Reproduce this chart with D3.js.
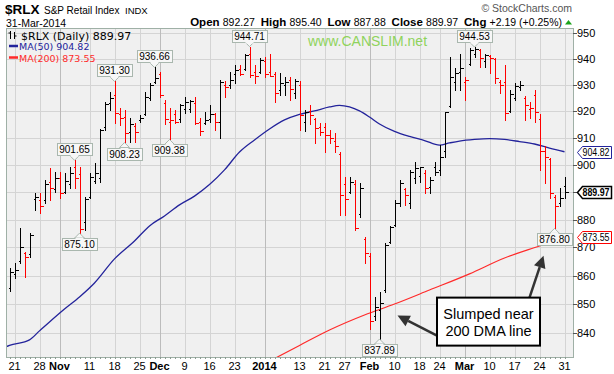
<!DOCTYPE html>
<html>
<head>
<meta charset="utf-8">
<script src="https://cdnjs.cloudflare.com/ajax/libs/d3/7.8.5/d3.min.js"></script>
<style>
body { margin: 0; background: #fff; }
svg { display: block; font-family: "Liberation Sans", Arial, sans-serif; }
</style>
</head>
<body>
<svg id="chart" width="614" height="374"></svg>
<script>
// trading days shown on the chart
var dates = [
	"2013-10-18","2013-10-21","2013-10-22","2013-10-23","2013-10-24","2013-10-25","2013-10-28","2013-10-29","2013-10-30","2013-10-31",
	"2013-11-01","2013-11-04","2013-11-05","2013-11-06","2013-11-07","2013-11-08","2013-11-11","2013-11-12","2013-11-13","2013-11-14",
	"2013-11-15","2013-11-18","2013-11-19","2013-11-20","2013-11-21","2013-11-22","2013-11-25","2013-11-26","2013-11-27","2013-11-29",
	"2013-12-02","2013-12-03","2013-12-04","2013-12-05","2013-12-06","2013-12-09","2013-12-10","2013-12-11","2013-12-12","2013-12-13",
	"2013-12-16","2013-12-17","2013-12-18","2013-12-19","2013-12-20","2013-12-23","2013-12-24","2013-12-26","2013-12-27","2013-12-30",
	"2013-12-31","2014-01-02","2014-01-03","2014-01-06","2014-01-07","2014-01-08","2014-01-09","2014-01-10","2014-01-13","2014-01-14",
	"2014-01-15","2014-01-16","2014-01-17","2014-01-21","2014-01-22","2014-01-23","2014-01-24","2014-01-27","2014-01-28","2014-01-29",
	"2014-01-30","2014-01-31","2014-02-03","2014-02-04","2014-02-05","2014-02-06","2014-02-07","2014-02-10","2014-02-11","2014-02-12",
	"2014-02-13","2014-02-14","2014-02-18","2014-02-19","2014-02-20","2014-02-21","2014-02-24","2014-02-25","2014-02-26","2014-02-27",
	"2014-02-28","2014-03-03","2014-03-04","2014-03-05","2014-03-06","2014-03-07","2014-03-10","2014-03-11","2014-03-12","2014-03-13",
	"2014-03-14","2014-03-17","2014-03-18","2014-03-19","2014-03-20","2014-03-21","2014-03-24","2014-03-25","2014-03-26","2014-03-27",
	"2014-03-28","2014-03-31"
];
var opens = [
	855.5,860.5,865,868,867.5,887.5,887,887,893.5,891,
	895,890,893,899,896.5,879,888,894,895,914,
	923,926,919,918,912,914.5,916.5,919,925,931,
	934,923,916,919,917,921,921,923,916,915.5,
	917,919,916,930,930,934,936,936,942,935,
	935,939,935,934,928,930,932,927,930,916,
	920,917,914,914,911,909,904,893,890,893,
	882,873,867,846,848,855,872,878,886,891,
	886,895,896,897,892,899,898,905,922,931,
	935,931,938,942,943.5,939,941,940,931,931,
	920,925,929,925,921,926,917,905,902,888,
	886,892.27
];
var highs = [
	862.6,864.4,876.8,868.5,875.0,889.5,889.5,894.4,898.7,897.5,
	897.5,896.9,899.3,901.65,899.0,888.3,896.9,900.5,913.4,923.5,
	927.4,931.3,921.1,920.4,917.3,915.4,918.6,927.4,930.7,936.66,
	935.1,924.3,921.1,920.4,922.9,925.5,924.3,925.5,917.3,919.8,
	922.3,919.2,932.0,931.3,935.1,937.6,937.6,942.0,944.71,937.6,
	940.2,940.8,942.0,935.1,934.4,933.0,933.0,932.4,931.3,920.4,
	922.3,917.3,915.4,915.4,912.9,911.7,904.9,895.6,895.6,894.4,
	893.2,873.8,867.9,852.5,854.3,871.5,877.8,887.1,894.4,891.3,
	898.1,901.1,899.3,898.1,895.6,901.1,907.3,919.8,940.8,936.3,
	942.0,933.0,944.1,944.53,943.8,942.0,941.4,940.2,931.9,937.6,
	928.0,930.7,931.3,925.9,923.5,928.0,918.9,906.8,902.4,888.9,
	891.3,895.40
];
var lows = [
	854.4,859.1,864.4,859.6,866.7,883.4,882.2,885.9,887.1,890.1,
	887.7,889.5,891.3,891.3,875.10,876.2,887.7,893.2,893.8,912.9,
	920.4,915.5,914.9,908.23,908.6,908.6,916.0,918.5,924.3,930.7,
	925.5,915.0,909.38,915.4,916.0,919.2,919.8,915.0,911.0,915.0,
	916.0,912.9,909.8,925.5,928.7,930.7,933.8,935.6,933.0,930.7,
	934.4,933.0,933.2,923.5,926.2,926.2,924.3,925.0,912.9,912.4,
	915.0,908.0,911.0,904.9,908.0,904.9,881.6,881.6,889.5,876.2,
	881.0,864.4,841.4,844.4,837.89,854.3,871.5,877.8,884.8,885.4,
	884.1,893.2,893.8,889.5,889.5,896.2,896.2,903.0,921.6,928.0,
	928.0,924.3,937.6,940.8,937.0,937.0,934.4,930.7,926.9,916.7,
	919.8,924.3,928.0,916.7,917.3,916.0,898.1,893.2,887.7,876.80,
	884.8,887.88
];
var closes = [
	861.4,862.0,870.3,866.5,874.5,888.0,884.8,892.8,891.5,895.0,
	889.5,894.0,897.0,895.0,876.5,887.5,895.6,897.0,912.8,922.9,
	925.0,919.2,917.3,911.7,915.0,912.1,917.5,925.5,930.0,932.5,
	926.2,917.0,916.5,915.8,922.3,923.3,923.8,915.4,912.6,916.7,
	918.8,916.0,931.0,929.3,932.0,935.5,934.3,941.5,933.6,933.3,
	939.6,934.0,933.5,926.9,930.7,931.0,928.6,931.3,918.6,919.6,
	918.5,913.8,912.3,911.0,909.8,906.8,888.9,887.5,893.8,876.8,
	891.3,868.0,844.0,849.0,850.5,871.0,877.2,885.9,893.2,888.9,
	897.5,898.7,899.0,891.3,894.4,897.5,903.0,919.6,933.0,934.4,
	936.3,931.9,943.5,943.8,940.2,941.4,940.2,932.6,930.0,919.2,
	926.5,929.4,930.0,922.3,921.1,919.8,905.0,903.0,889.5,884.8,
	887.78,889.97
];
var prevClose = 858.0; // close before the first bar

// moving averages
var ma50Dates = ["2013-10-17","2013-10-18","2013-10-24","2013-10-28","2013-10-30","2013-11-04","2013-11-07","2013-11-12",
	"2013-11-18","2013-11-22","2013-11-27","2013-12-03","2013-12-06","2013-12-11","2013-12-16","2013-12-19","2013-12-24",
	"2013-12-30","2014-01-03","2014-01-08","2014-01-13","2014-01-16","2014-01-22","2014-01-24","2014-01-28","2014-01-30",
	"2014-02-03","2014-02-05","2014-02-10","2014-02-13","2014-02-19","2014-02-24","2014-02-26","2014-02-28","2014-03-05",
	"2014-03-10","2014-03-13","2014-03-18","2014-03-21","2014-03-26","2014-03-31"];
var ma50Values = [835.0,835.7,837.6,840.7,843.8,848.3,852.5,857.4,
	865.9,872.3,877.7,881.3,885.3,888.5,892.7,898.1,904.7,
	909.2,913.3,916.7,918.8,920.1,921.6,922.2,921.6,920.1,
	917.8,915.2,912.4,910.5,909.0,907.3,908.1,908.8,909.4,
	909.7,909.4,908.6,907.7,906.2,904.82];
var ma200Dates = ["2014-01-06","2014-01-13","2014-01-22","2014-01-31","2014-02-10","2014-02-20","2014-03-04","2014-03-13","2014-03-24","2014-03-31"];
var ma200Values = [831.2,835.7,841.0,846.2,850.0,854.9,860.6,866.2,870.5,873.55];

var yTicks = [840,850,860,870,880,890,900,910,920,930,940,950];
var xTickDates = ["2013-10-21","2013-10-28","2013-11-01","2013-11-11","2013-11-18","2013-11-25","2013-12-02","2013-12-09",
	"2013-12-16","2013-12-23","2014-01-02","2014-01-13","2014-01-21","2014-01-27","2014-02-03","2014-02-10","2014-02-18",
	"2014-02-24","2014-03-03","2014-03-10","2014-03-17","2014-03-24","2014-03-31"];
var xTickLabels = ["21","28","Nov","11","18","25","Dec","9","16","23","2014","13","21","27","Feb","10","18","24","Mar","10","17","24","31"];
var monthTicks = ["Nov","Dec","2014","Feb","Mar"];

// value call-outs on highs and lows
var calloutDates = ["2013-11-06","2013-11-07","2013-11-18","2013-11-20","2013-11-29","2013-12-04","2013-12-27","2014-02-05","2014-03-05","2014-03-27"];
var calloutValues = [901.65,875.10,931.30,908.23,936.66,909.38,944.71,837.89,944.53,876.80];
var calloutSides = ["high","low","high","low","high","low","high","low","high","low"];

var black = "#000", red = "#ff0000", navy = "#23239b", maRed = "#ff2a2a";
var plotL = 6, plotR = 573, plotT = 28, plotB = 357;

var svg = d3.select("#chart");
var x = d3.scalePoint().domain(dates).range([9.5, 564.5]);
var y = d3.scaleLog().domain([840, 950]).range([332.9, 33]);
function px(d) { return Math.round(x(d)) + 0.5; }
function py(v) { return Math.round(y(v)) + 0.5; }

// header
svg.append("text").attr("x", 5).attr("y", 14).attr("font-size", 13.5).attr("font-weight", "bold").text("$RLX");
svg.append("text").attr("x", 44).attr("y", 14).attr("font-size", 10).text("S&P Retail Index");
svg.append("text").attr("x", 125).attr("y", 14).attr("font-size", 9.5).text("INDX");
svg.append("text").attr("x", 6).attr("y", 26.5).attr("font-size", 10.5).text("31-Mar-2014");
svg.append("text").attr("x", 572).attr("y", 12).attr("font-size", 10.5).attr("text-anchor", "end")
	.attr("fill", "#555").text("\u00a9 StockCharts.com");

var quote = [["Open ", true], ["892.27  ", false], ["High ", true], ["895.40  ", false],
	["Low ", true], ["887.88  ", false], ["Close ", true], ["889.97  ", false],
	["Chg ", true], ["+2.19 (+0.25%)", false]];
var qt = svg.append("text").attr("x", 562).attr("y", 25.5).attr("text-anchor", "end").attr("xml:space", "preserve");
quote.forEach(function(q) {
	qt.append("tspan").attr("font-size", q[1] ? 11.5 : 10.5).attr("font-weight", q[1] ? "bold" : "normal").text(q[0]);
});
svg.append("path").attr("d", "M565,24.5L568.5,20L572,24.5Z").attr("fill", "#1aa31a");

// plot area and grid
svg.append("rect").attr("x", plotL).attr("y", plotT).attr("width", plotR - plotL).attr("height", plotB - plotT)
	.attr("fill", "#f0f0f0");
svg.append("clipPath").attr("id", "clip").append("rect")
	.attr("x", plotL).attr("y", plotT).attr("width", plotR - plotL).attr("height", plotB - plotT);

var grid = svg.append("g").attr("shape-rendering", "crispEdges");
grid.selectAll(".hg").data(yTicks).enter().append("line")
	.attr("x1", plotL).attr("x2", plotR).attr("y1", py).attr("y2", py)
	.attr("stroke", "#d4d4d4");
grid.selectAll(".vg").data(xTickDates).enter().append("line")
	.attr("x1", px).attr("x2", px).attr("y1", plotT).attr("y2", plotB)
	.attr("stroke", function(d, i) { return monthTicks.indexOf(xTickLabels[i]) >= 0 ? "#bcbcbc" : "#d4d4d4"; });

svg.append("text").attr("x", 308).attr("y", 45.5).attr("font-size", 14).attr("fill", "#8fd35c").text("www.CANSLIM.net");

// moving averages
var plot = svg.append("g").attr("clip-path", "url(#clip)");
var ma50Line = d3.line().x(function(d) { return x(d[0]) === undefined ? 4.5 : x(d[0]); })
	.y(function(d) { return y(d[1]); }).curve(d3.curveMonotoneX);
plot.append("path").datum(d3.zip(ma50Dates, ma50Values)).attr("d", ma50Line)
	.attr("fill", "none").attr("stroke", navy).attr("stroke-width", 1.3);
var ma200Line = d3.line().x(function(d) { return x(d[0]); }).y(function(d) { return y(d[1]); }).curve(d3.curveMonotoneX);
plot.append("path").datum(d3.zip(ma200Dates, ma200Values)).attr("d", ma200Line)
	.attr("fill", "none").attr("stroke", maRed).attr("stroke-width", 1.2);

// OHLC bars
var bars = plot.append("g").attr("shape-rendering", "crispEdges");
dates.forEach(function(d, i) {
	var before = i == 0 ? prevClose : closes[i - 1];
	var c = closes[i] < before ? red : black;
	var bx = px(d);
	var g = bars.append("g").attr("stroke", c);
	g.append("line").attr("x1", bx).attr("x2", bx).attr("y1", y(highs[i])).attr("y2", y(lows[i]) + 1);
	g.append("line").attr("x1", bx - 2).attr("x2", bx).attr("y1", py(opens[i])).attr("y2", py(opens[i]));
	g.append("line").attr("x1", bx).attr("x2", bx + 3).attr("y1", py(closes[i])).attr("y2", py(closes[i]));
});

// call-outs
calloutDates.forEach(function(d, i) {
	var cx = x(d), tip = y(calloutValues[i]);
	var g = svg.append("g");
	var t = g.append("text").attr("font-size", 10).attr("text-anchor", "middle").attr("x", cx)
		.text(calloutValues[i].toFixed(2));
	var w = t.node().getComputedTextLength() + 4, h = 12;
	var high = calloutSides[i] == "high";
	var by = high ? tip - 5 - h : tip + 5;
	var edge = high ? by + h : by;
	var tn = t.node();
	g.insert("path", function() { return tn; })
		.attr("d", "M" + (cx - 5) + "," + edge + "L" + cx + "," + tip + "L" + (cx + 5) + "," + edge + "Z")
		.attr("fill", "#f7f7f7").attr("stroke", "#a9b7ae");
	g.insert("rect", function() { return tn; }).attr("x", Math.round(cx - w / 2) + 0.5).attr("y", Math.round(by) + 0.5)
		.attr("width", Math.round(w)).attr("height", h).attr("fill", "#f7f7f7").attr("stroke", "#a9b7ae");
	g.insert("rect", function() { return tn; }).attr("x", cx - 4).attr("y", high ? Math.round(edge) - 1 : Math.round(edge))
		.attr("width", 8).attr("height", 2.5).attr("fill", "#f7f7f7");
	t.attr("y", Math.round(by) + 10);
});

// plot border
svg.append("rect").attr("x", plotL + 0.5).attr("y", plotT + 0.5).attr("width", plotR - plotL).attr("height", plotB - plotT)
	.attr("fill", "none").attr("stroke", "#9fb0a6");

// last value tags, the axis labels they cover are left out
var tagValues = [904.82, 889.97, 873.55];
var tagColors = [navy, black, red];
function covered(v) {
	return tagValues.some(function(t) { return Math.abs(y(t) - y(v)) < 6; });
}

// right axis
var axis = svg.append("g");
axis.selectAll("line").data(yTicks).enter().append("line")
	.attr("x1", plotR).attr("x2", plotR + 4).attr("y1", py).attr("y2", py).attr("stroke", "#555")
	.attr("shape-rendering", "crispEdges");
axis.selectAll("text").data(yTicks.filter(function(v) { return !covered(v); })).enter().append("text")
	.attr("x", plotR + 4).attr("y", function(v) { return y(v) + 4; }).attr("font-size", 11).text(function(v) { return v; });

tagValues.forEach(function(v, i) {
	var ty = Math.round(y(v)) + 0.5;
	var t = svg.append("text").attr("x", 582.5).attr("y", ty + 3.5).attr("font-size", 10)
		.attr("font-weight", i == 1 ? "bold" : "normal").attr("fill", "#000")
		.attr("textLength", 27).attr("lengthAdjust", "spacingAndGlyphs").text(v.toFixed(2));
	var tn = t.node();
	svg.insert("path", function() { return tn; })
		.attr("d", "M577.5," + ty + "L582.5," + (ty - 6) + "H611.5V" + (ty + 6) + "H582.5Z")
		.attr("fill", "#fff").attr("stroke", tagColors[i]).attr("stroke-width", i == 1 ? 1.5 : 1);
});

// bottom axis
var xa = svg.append("g");
xa.selectAll("line").data(dates).enter().append("line")
	.attr("x1", px).attr("x2", px).attr("y1", plotB).attr("y2", plotB + 2).attr("stroke", "#8a9a90")
	.attr("shape-rendering", "crispEdges");
xa.selectAll("text").data(xTickDates).enter().append("text")
	.attr("x", function(d) { return x(d); }).attr("y", 370).attr("text-anchor", "middle").attr("font-size", 11)
	.attr("font-weight", function(d, i) { return monthTicks.indexOf(xTickLabels[i]) >= 0 ? "bold" : "normal"; })
	.text(function(d, i) { return xTickLabels[i]; });

// legend
var lg = svg.append("g");
lg.append("path").attr("d", "M10.5,31V39M8.5,33H10.5M14.5,32V39M14.5,36H16.5").attr("stroke", "#000").attr("fill", "none");
lg.append("text").attr("x", 21).attr("y", 39.5).attr("font-size", 11).attr("font-family", "DejaVu Sans")
	.text("$RLX (Daily) 889.97");
lg.append("line").attr("x1", 9).attr("x2", 18).attr("y1", 46).attr("y2", 46).attr("stroke", navy).attr("stroke-width", 2.5);
lg.append("text").attr("x", 19).attr("y", 50).attr("font-size", 9.5).attr("font-family", "DejaVu Sans").attr("fill", navy)
	.text("MA(50) 904.82");
lg.append("line").attr("x1", 9).attr("x2", 18).attr("y1", 57.5).attr("y2", 57.5).attr("stroke", maRed).attr("stroke-width", 2.5);
lg.append("text").attr("x", 19).attr("y", 61.5).attr("font-size", 9.5).attr("font-family", "DejaVu Sans").attr("fill", maRed)
	.text("MA(200) 873.55");

// annotation box and arrows
var annoDate = "2014-03-10", annoValue = 843.9;
var ax = x(annoDate) - 1, ay = y(annoValue);
var boxW = 103, boxH = 48;
function arrow(x1, y1, x2, y2) {
	var a = Math.atan2(y2 - y1, x2 - x1), len = 12, hw = 6;
	var bxp = x2 - len * Math.cos(a), byp = y2 - len * Math.sin(a);
	svg.append("line").attr("x1", x1).attr("y1", y1).attr("x2", bxp).attr("y2", byp)
		.attr("stroke", "#333").attr("stroke-width", 2.5);
	svg.append("path").attr("d", "M" + x2 + "," + y2 + "L" + (bxp + hw * Math.sin(a)) + "," + (byp - hw * Math.cos(a)) +
		"L" + (bxp - hw * Math.sin(a)) + "," + (byp + hw * Math.cos(a)) + "Z").attr("fill", "#333");
}
arrow(ax - boxW / 2, ay + 14, x("2014-02-11") - 2, y(846));
arrow(ax + 41, ay - boxH / 2, x("2014-03-25") - 1, y(867));
svg.append("rect").attr("x", ax - boxW / 2).attr("y", ay - boxH / 2).attr("width", boxW).attr("height", boxH)
	.attr("fill", "#fff").attr("stroke", "#000").attr("stroke-width", 2);
svg.append("text").attr("x", ax).attr("y", ay - 3).attr("text-anchor", "middle").attr("font-size", 14.5).text("Slumped near");
svg.append("text").attr("x", ax).attr("y", ay + 14).attr("text-anchor", "middle").attr("font-size", 14.5).text("200 DMA line");
</script>
</body>
</html>
